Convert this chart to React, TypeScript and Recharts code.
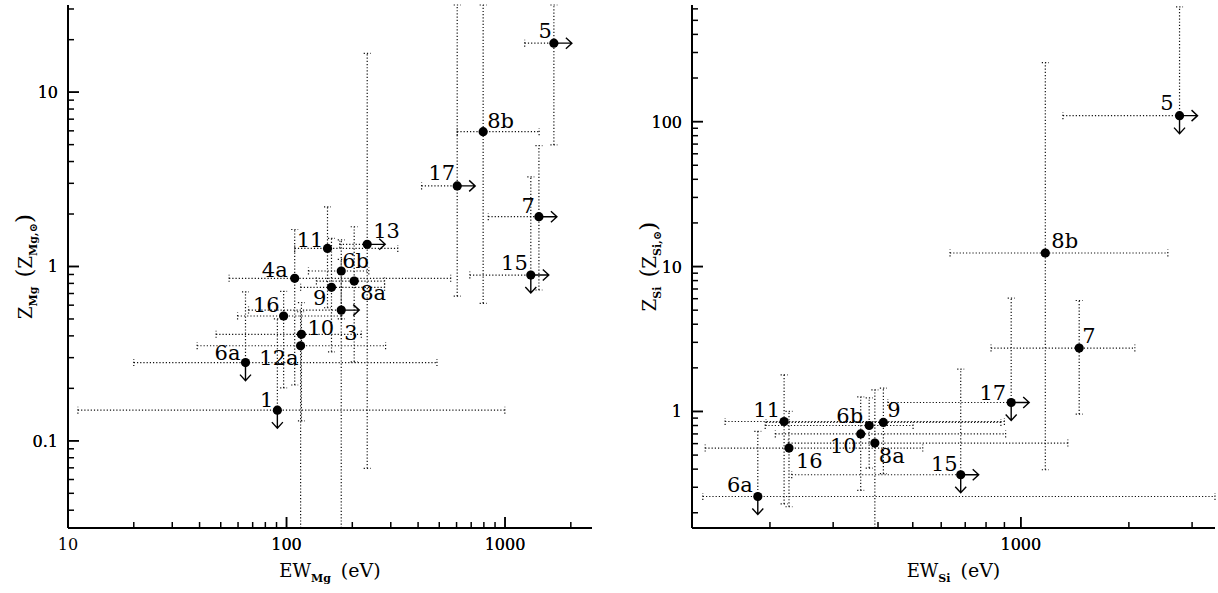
import { ScatterChart, Scatter, XAxis, YAxis, ErrorBar } from "recharts";

const FONT = "'DejaVu Serif', serif";

// ---- Mg panel (left) ----
const mgNames = ["1", "6a", "12a", "10", "16", "3", "9", "8a", "4a", "6b", "11", "13", "15", "7", "17", "8b", "5"];
const mgEW = [90.8, 64.9, 116, 117, 97, 178, 160.6, 204, 109, 178, 154, 234, 1312, 1429, 604, 794, 1673];
const mgEWLow = [11.1, 20, 39, 47.6, 59.7, 67, 116, 137, 54.6, 126, 109, 175, 690, 838, 415, 604, 1230];
const mgEWHigh = [998, 488, 284, 220, 179, 178, 281, 281, 564, 238, 323, 234, 1312, 1429, 604, 1432, 1673];
const mgZ = [0.15, 0.281, 0.351, 0.408, 0.52, 0.562, 0.759, 0.825, 0.855, 0.942, 1.27, 1.34, 0.893, 1.93, 2.9, 5.93, 19.1];
const mgZLow = [0.15, 0.281, 0.02, 0.13, 0.201, 0.02, 0.324, 0.284, 0.209, 0.5, 0.58, 0.0695, 0.893, 0.733, 0.676, 0.615, 4.98];
const mgZHigh = [0.5, 0.716, 0.55, 0.62, 0.72, 1.1, 1.45, 1.69, 1.63, 1.42, 2.2, 16.7, 3.27, 4.93, 100, 100, 100];
const mgRightLimits = ["3", "13", "15", "7", "17", "5"];
const mgDownLimits = ["1", "6a", "15"];

const mgXTicks = [20, 30, 40, 50, 60, 70, 80, 90, 100, 200, 300, 400, 500, 600, 700, 800, 900, 1000, 2000];
const mgXMajors = [10, 100, 1000];
const mgYTicks = [0.04, 0.05, 0.06, 0.07, 0.08, 0.09, 0.1, 0.2, 0.3, 0.4, 0.5, 0.6, 0.7, 0.8, 0.9, 1, 2, 3, 4, 5, 6, 7, 8, 9, 10, 20, 30];
const mgYMajors = [0.1, 1, 10];

// ---- Si panel (right) ----
const siNames = ["6a", "11", "16", "10", "6b", "8a", "9", "15", "17", "7", "8b", "5"];
const siEW = [185, 219, 226, 358, 378, 392, 414, 680, 940, 1454, 1170, 2768];
const siEWLow = [130, 150, 132, 207, 194, 225, 195, 230, 426, 826, 635, 1310];
const siEWHigh = [5000, 900, 533, 907, 501, 1352, 880, 680, 940, 2078, 2568, 2768];
const siZ = [0.259, 0.853, 0.559, 0.7, 0.8, 0.605, 0.84, 0.366, 1.153, 2.74, 12.4, 110];
const siZLow = [0.259, 0.23, 0.22, 0.285, 0.407, 0.1, 0.372, 0.366, 1.153, 0.959, 0.396, 110];
const siZHigh = [0.73, 1.79, 1.0, 1.26, 1.24, 1.41, 1.45, 1.96, 6.05, 5.83, 255, 620];
const siRightLimits = ["15", "17", "5"];
const siDownLimits = ["6a", "15", "17", "5"];

const siXTicks = [200, 300, 400, 500, 600, 700, 800, 900, 1000, 2000, 3000];
const siXMajors = [1000];
const siYTicks = [0.2, 0.3, 0.4, 0.5, 0.6, 0.7, 0.8, 0.9, 1, 2, 3, 4, 5, 6, 7, 8, 9, 10, 20, 30, 40, 50, 60, 70, 80, 90, 100, 200, 300, 400, 500, 600];
const siYMajors = [1, 10, 100];

// label offsets from the point: dx, dy (baseline), anchor
type LabelPos = Record<string, [number, number, "start" | "end"]>;
const mgLabelPos: LabelPos = {
  "1": [-4, -3, "end"], "6a": [-5, -3, "end"], "12a": [-2, 19, "end"], "10": [6, 1, "start"],
  "16": [-4, -4, "end"], "3": [3, 30, "start"], "9": [-5, 18, "end"], "8a": [6, 19, "start"],
  "4a": [-7, -1, "end"], "6b": [1, -3, "start"], "11": [-4, -1, "end"], "13": [6, -6, "start"],
  "15": [-3, -5, "end"], "7": [-4, -4, "end"], "17": [-2, -6, "end"], "8b": [4, -4, "start"],
  "5": [-2, -5, "end"],
};
const siLabelPos: LabelPos = {
  "5": [-6, -6, "end"], "8b": [6, -5, "start"], "7": [3, -5, "start"], "17": [-5, -3, "end"],
  "15": [-3, -4, "end"], "11": [-4, -4, "end"], "6b": [-6, -3, "end"], "9": [4, -5, "start"],
  "10": [-4, 19, "end"], "8a": [4, 20, "start"], "16": [7, 20, "start"], "6a": [-5, -4, "end"],
};

// error bars that run off the plot are cut at the frame
function buildPoints(
  names: string[], ew: number[], ewLo: number[], ewHi: number[],
  z: number[], zLo: number[], zHi: number[], rightLim: string[], downLim: string[],
  xDom: number[], yDom: number[]
) {
  return names.map((name, i) => {
    const xl = Math.max(ewLo[i], xDom[0]);
    const xh = Math.min(ewHi[i], xDom[1]);
    const yl = Math.max(zLo[i], yDom[0]);
    const yh = Math.min(zHi[i], yDom[1]);
    return {
      name,
      ew: ew[i],
      z: z[i],
      ex: [ew[i] - xl, xh - ew[i]],
      ez: [z[i] - yl, yh - z[i]],
      right: rightLim.includes(name),
      down: downLim.includes(name),
    };
  });
}

const mgXDomain = [10, 2500];
const mgYDomain = [0.03162, 31.62];
const siXDomain = [121.3, 3475];
const siYDomain = [0.157, 638];

const mgData = buildPoints(mgNames, mgEW, mgEWLow, mgEWHigh, mgZ, mgZLow, mgZHigh, mgRightLimits, mgDownLimits, mgXDomain, mgYDomain);
const siData = buildPoints(siNames, siEW, siEWLow, siEWHigh, siZ, siZLow, siZHigh, siRightLimits, siDownLimits, siXDomain, siYDomain);

function AxisTick(props: any) {
  const { x, y, payload, side, majors } = props;
  const v = payload.value;
  const major = majors.includes(v);
  const len = major ? 11 : 6;
  let d = "";
  if (side === "bottom") d = `M${x},${y}V${y - len}`;
  if (side === "top") d = `M${x},${y}V${y + len}`;
  if (side === "left") d = `M${x},${y}H${x + len}`;
  if (side === "right") d = `M${x},${y}H${x - len}`;
  return (
    <g>
      <path d={d} stroke="#000" strokeWidth={1.5} />
      {major && side === "bottom" && (
        <text x={x} y={y + 22} textAnchor="middle" fontFamily={FONT} fontSize={16} fill="#000">
          {String(v)}
        </text>
      )}
      {major && side === "left" && (
        <text x={x - 10} y={y + 6} textAnchor="end" fontFamily={FONT} fontSize={16} fill="#000">
          {String(v)}
        </text>
      )}
    </g>
  );
}

function XTitle(props: any) {
  const vb = props.viewBox || { x: 68, y: 528, width: 524, height: 65 };
  return (
    <text x={vb.x + vb.width / 2} y={vb.y + 49} textAnchor="middle" fontFamily={FONT} fontSize={18} fill="#000">
      EW
      <tspan fontSize={11} fontWeight="bold" dy={5}>{props.sub}</tspan>
      <tspan dy={-5} dx={10} fontSize={19}>(eV)</tspan>
    </text>
  );
}

function YTitle(props: any) {
  const vb = props.viewBox || { x: 0, y: 5, width: 68, height: 523 };
  const x = vb.x + vb.width - 36.5;
  const y = vb.y + vb.height / 2;
  return (
    <text x={x} y={y} transform={`rotate(-90 ${x} ${y})`} textAnchor="middle" fontFamily={FONT} fontSize={18} fill="#000">
      Z
      <tspan fontSize={11} fontWeight="bold" dy={5}>{props.sub}</tspan>
      <tspan dy={-5} dx={9} fontSize={23}>(</tspan>
      <tspan>Z</tspan>
      <tspan fontSize={11} fontWeight="bold" dy={5}>{props.sub + ",\u2299"}</tspan>
      <tspan dy={-5} fontSize={23}>)</tspan>
    </text>
  );
}

function makeShape(labelPos: LabelPos) {
  return (props: any) => {
    const { cx, cy, payload } = props;
    const p = labelPos[payload.name] || [-4, -4, "end"];
    return (
      <g>
        <circle cx={cx} cy={cy} r={4.6} fill="#000" />
        {payload.right && (
          <path
            d={`M${cx},${cy}H${cx + 18}M${cx + 12},${cy - 5.5}L${cx + 18},${cy}L${cx + 12},${cy + 5.5}`}
            stroke="#000" strokeWidth={1.4} fill="none"
          />
        )}
        {payload.down && (
          <path
            d={`M${cx},${cy}V${cy + 18}M${cx - 5.5},${cy + 12}L${cx},${cy + 18}L${cx + 5.5},${cy + 12}`}
            stroke="#000" strokeWidth={1.4} fill="none"
          />
        )}
        <text x={cx + p[0]} y={cy + p[1]} textAnchor={p[2]} fontFamily={FONT} fontSize={21} fill="#000">
          {payload.name}
        </text>
      </g>
    );
  };
}

const axisLine = { stroke: "#000", strokeWidth: 2 };

function Panel(props: any) {
  const { width, yAxisWidth, marginRight, data, xDomain, yDomain, xTicks, xMajors, yTicks, yMajors, sub, labelPos } = props;
  const allX = [...xMajors, ...xTicks].filter((v) => v >= xDomain[0] && v <= xDomain[1]);
  const allY = [...yMajors, ...yTicks].filter((v) => v >= yDomain[0] && v <= yDomain[1]);
  const common = {
    type: "number" as const,
    scale: "log" as const,
    allowDataOverflow: true,
    interval: 0 as const,
    tickSize: 0,
    tickMargin: 0,
    tickLine: false,
    axisLine,
  };
  return (
    <ScatterChart width={width} height={593} margin={{ top: 5, right: marginRight, bottom: 0, left: 0 }}>
      <XAxis xAxisId="b" dataKey="ew" domain={xDomain} ticks={allX} height={65}
        tick={<AxisTick side="bottom" majors={xMajors} />} label={<XTitle sub={sub} />} {...common} />
      <XAxis xAxisId="t" orientation="top" domain={xDomain} ticks={allX} height={0}
        tick={<AxisTick side="top" majors={xMajors} />} {...common} />
      <YAxis yAxisId="l" dataKey="z" domain={yDomain} ticks={allY} width={yAxisWidth}
        tick={<AxisTick side="left" majors={yMajors} />} label={<YTitle sub={sub} />} {...common} />
      <YAxis yAxisId="r" orientation="right" domain={yDomain} ticks={allY} width={0}
        tick={<AxisTick side="right" majors={yMajors} />} {...common} />
      <Scatter data={data} xAxisId="b" yAxisId="l" shape={makeShape(labelPos)} isAnimationActive={false}>
        <ErrorBar dataKey="ex" direction="x" width={3.5} stroke="#111" strokeWidth={1.2} strokeDasharray="1.2 2" isAnimationActive={false} />
        <ErrorBar dataKey="ez" direction="y" width={3.5} stroke="#111" strokeWidth={1.2} strokeDasharray="1.2 2" isAnimationActive={false} />
      </Scatter>
    </ScatterChart>
  );
}

export default function App() {
  return (
    <div style={{ position: "absolute", left: 0, top: 0, width: 1218, height: 593, background: "#fff", display: "flex" }}>
      <Panel
        width={610} yAxisWidth={68} marginRight={18} data={mgData}
        xDomain={mgXDomain} yDomain={mgYDomain}
        xTicks={mgXTicks} xMajors={mgXMajors} yTicks={mgYTicks} yMajors={mgYMajors}
        sub="Mg" labelPos={mgLabelPos}
      />
      <Panel
        width={608} yAxisWidth={82} marginRight={3} data={siData}
        xDomain={siXDomain} yDomain={siYDomain}
        xTicks={siXTicks} xMajors={siXMajors} yTicks={siYTicks} yMajors={siYMajors}
        sub="Si" labelPos={siLabelPos}
      />
    </div>
  );
}
